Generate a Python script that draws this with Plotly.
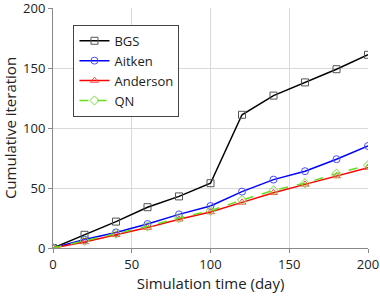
import plotly.graph_objects as go

days = [0, 20, 40, 60, 80, 100, 120, 140, 160, 180, 200]
bgs = [0, 11, 22, 34, 43, 54, 111, 127, 138, 149, 161]
aitken = [0, 7, 13, 20, 28, 35, 47, 57, 64, 74, 85]
anderson = [0, 5, 11, 17, 24, 30, 38, 46, 53, 60, 67]
qn = [0, 6, 12, 18, 25, 31, 40, 48, 54, 62, 69]

fig = go.Figure()
fig.add_trace(go.Scatter(x=days, y=bgs, name="BGS", mode="lines+markers",
    line=dict(color="black", width=1.5),
    marker=dict(symbol="square-open", size=7, color="#555555", line=dict(width=1))))
fig.add_trace(go.Scatter(x=days, y=aitken, name="Aitken", mode="lines+markers",
    line=dict(color="#0000ff", width=1.5),
    marker=dict(symbol="circle-open", size=7, color="#4d4dff", line=dict(width=1))))
fig.add_trace(go.Scatter(x=days, y=anderson, name="Anderson", mode="lines+markers",
    line=dict(color="#ff0000", width=1.5),
    marker=dict(symbol="triangle-up-open", size=7, color="#ff5050", line=dict(width=1))))
fig.add_trace(go.Scatter(x=days, y=qn, name="QN", mode="lines+markers",
    line=dict(color="#66dd22", width=1.5, dash="dash"),
    marker=dict(symbol="diamond-open", size=7, color="#77dd33", line=dict(width=1))))

fig.update_layout(
    width=380, height=297,
    margin=dict(l=53, r=12, t=8, b=49),
    paper_bgcolor="white", plot_bgcolor="white",
    font=dict(family="Open Sans, Noto Sans, sans-serif", size=13, color="#222222"),
    showlegend=True,
    legend=dict(x=0.065, y=0.93, xanchor="left", yanchor="top",
                bgcolor="white", bordercolor="#444444", borderwidth=1,
                font=dict(size=13), tracegroupgap=5, itemwidth=30),
    xaxis=dict(range=[0, 200], tickvals=[0, 50, 100, 150, 200], automargin=False,
               ticklabeloverflow="allow",
               showgrid=True, gridcolor="#d9d9d9", gridwidth=1,
               showline=True, linecolor="#888888", linewidth=1,
               ticks="outside", ticklen=4, tickcolor="#888888",
               zeroline=False, title=dict(text="Simulation time (day)", font=dict(size=15), standoff=4)),
    yaxis=dict(range=[0, 200], tickvals=[0, 50, 100, 150, 200], automargin=False,
               ticklabeloverflow="allow",
               showgrid=True, gridcolor="#d9d9d9", gridwidth=1,
               showline=True, linecolor="#888888", linewidth=1,
               ticks="outside", ticklen=4, tickcolor="#888888",
               zeroline=False, title=dict(text="Cumulative iteration", font=dict(size=15), standoff=4)),
)
fig.write_html("out.html", config={"displayModeBar": False},
               post_script="document.body.style.margin='0';document.body.style.overflow='hidden';")
